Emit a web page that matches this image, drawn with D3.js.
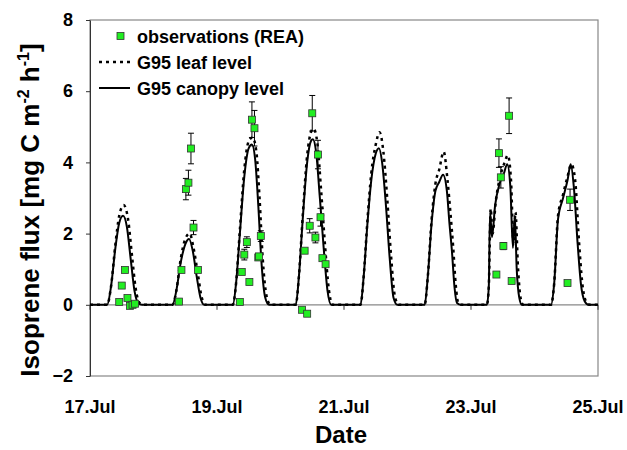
<!DOCTYPE html>
<html><head><meta charset="utf-8">
<script src="https://cdn.jsdelivr.net/npm/d3@7"></script>
<style>body{margin:0;background:#fff}text{font-family:"Liberation Sans",Arial,sans-serif;font-weight:bold}</style>
</head><body><svg width="627" height="450"></svg>
<script>
// Days of July (fractional), values in mg C m-2 h-1
const canopyT = [17.0,17.27,17.33,17.40,17.46,17.52,17.58,17.64,17.70,17.76,17.82,
  18.30,18.36,18.43,18.50,18.56,18.62,18.68,18.74,18.80,
  19.25,19.30,19.36,19.43,19.50,19.55,19.60,19.65,19.70,19.76,19.82,
  20.24,20.29,20.35,20.42,20.48,20.51,20.56,20.62,20.68,20.74,20.80,
  21.26,21.31,21.37,21.43,21.50,21.55,21.60,21.66,21.72,21.78,21.84,
  22.27,22.32,22.38,22.44,22.50,22.56,22.62,22.66,22.70,22.74,22.78,22.84,
  23.25,23.28,23.30,23.33,23.38,23.45,23.52,23.57,23.62,23.66,23.69,23.72,23.76,23.80,
  24.26,24.31,24.37,24.45,24.52,24.57,24.62,24.68,24.73,24.79,24.85,25.0];
const canopyV = [0,0,0.5,1.6,2.3,2.5,2.2,1.3,0.4,0.05,0,
  0,0.4,1.2,1.7,1.85,1.5,0.8,0.2,0,
  0,0.6,2.0,3.6,4.4,4.5,4.1,2.8,1.2,0.2,0,
  0,0.8,2.4,4.0,4.6,4.65,4.3,3.0,1.6,0.4,0,
  0,0.8,2.3,3.5,4.25,4.4,4.0,2.8,1.3,0.2,0,
  0,0.8,2.3,3.2,3.45,3.65,3.2,2.3,1.5,0.5,0.05,0,
  0,0.5,2.6,1.9,2.8,3.4,3.7,3.95,3.3,1.6,2.5,1.0,0.2,0,
  0,0.6,2.4,3.0,3.5,3.95,3.3,1.7,0.6,0.1,0,0];
const leafT = [17.0,17.27,17.33,17.40,17.46,17.53,17.60,17.66,17.72,17.78,17.84,
  18.30,18.36,18.43,18.50,18.57,18.63,18.70,18.76,18.82,
  19.25,19.30,19.36,19.43,19.50,19.56,19.62,19.67,19.72,19.78,19.84,
  20.24,20.29,20.35,20.42,20.48,20.52,20.58,20.64,20.70,20.76,20.82,
  21.26,21.31,21.37,21.43,21.50,21.56,21.62,21.68,21.74,21.80,21.86,
  22.27,22.32,22.38,22.44,22.50,22.57,22.63,22.68,22.72,22.76,22.80,22.86,
  23.25,23.28,23.31,23.34,23.39,23.46,23.53,23.58,23.63,23.67,23.70,23.74,23.78,23.82,
  24.26,24.31,24.37,24.45,24.52,24.58,24.64,24.70,24.75,24.81,24.87,25.0];
const leafV = [0,0,0.5,1.7,2.5,2.8,2.4,1.4,0.45,0.05,0,
  0,0.4,1.3,1.85,2.0,1.6,0.85,0.2,0,
  0,0.6,2.1,3.8,4.6,4.7,4.3,3.0,1.3,0.25,0,
  0,0.8,2.5,4.2,4.85,4.95,4.55,3.2,1.7,0.45,0,
  0,0.8,2.4,3.7,4.5,4.85,4.3,3.0,1.4,0.25,0,
  0,0.8,2.4,3.4,3.8,4.3,3.5,2.5,1.6,0.55,0.05,0,
  0,0.5,2.7,2.0,2.9,3.6,4.0,4.2,3.5,1.7,2.6,1.05,0.2,0,
  0,0.6,2.5,3.1,3.6,3.95,3.5,1.8,0.65,0.1,0,0];
const obsT = [17.46,17.50,17.55,17.59,17.63,17.67,17.71,
  18.40,18.44,18.51,18.55,18.59,18.63,18.70,
  19.36,19.39,19.43,19.47,19.51,19.55,19.59,19.65,19.66,19.69,
  20.34,20.38,20.42,20.46,20.50,20.55,20.59,20.63,20.66,20.71,
  23.40,23.44,23.47,23.51,23.60,23.64,
  24.52,24.56];
const obsV = [0.08,0.54,0.98,0.19,-0.03,0.0,0.03,
  0.09,0.98,3.25,3.43,4.39,2.17,0.98,
  0.08,0.92,1.41,1.76,0.64,5.2,4.96,1.33,1.36,1.93,
  -0.14,1.52,-0.25,2.22,5.38,1.89,4.22,2.46,1.31,1.14,
  0.85,4.26,3.58,1.65,5.31,0.67,
  0.61,2.95];
const obsErr = [0,0,0,0,0,0,0,
  0,0,0.3,0.35,0.43,0.2,0,
  0,0,0.15,0.15,0,0.5,0.5,0,0,0.15,
  0,0,0,0.2,0.5,0.15,0.4,0.25,0,0,
  0,0.4,0.3,0.1,0.5,0,
  0,0.3];
const xTicks = [17,19,21,23,25];
const yTicks = [-2,0,2,4,6,8];

const margin = {top: 20, right: 29, bottom: 74, left: 90};
const width = 627 - margin.left - margin.right;
const height = 450 - margin.top - margin.bottom;

const svg = d3.select('svg');
const g = svg.append('g').attr('transform', `translate(${margin.left},${margin.top})`);

const x = d3.scaleLinear().domain([17, 25]).range([0, width]);
const y = d3.scaleLinear().domain([-2, 8]).range([height, 0]);

// frame
g.append('rect').attr('width', width).attr('height', height)
  .attr('fill', 'none').attr('stroke', '#888').attr('stroke-width', 1.2);

// y axis
const yAxis = g.append('g').call(d3.axisLeft(y).tickValues(yTicks).tickSize(4).tickSizeOuter(0));
yAxis.select('.domain').attr('stroke', '#333');
yAxis.selectAll('line').attr('stroke', '#333');
yAxis.selectAll('text').attr('font-size', 18).attr('fill', '#000').attr('x', -17);

// zero line + x ticks
g.append('line').attr('x1', 0).attr('x2', width).attr('y1', y(0)).attr('y2', y(0))
  .attr('stroke', '#888').attr('stroke-width', 1.2);
g.selectAll('.xt').data(xTicks).enter().append('line')
  .attr('x1', d => x(d)).attr('x2', d => x(d)).attr('y1', y(0)).attr('y2', y(0) + 5)
  .attr('stroke', '#333');
g.selectAll('.xl').data(xTicks).enter().append('text')
  .attr('x', d => x(d)).attr('y', height + 37).attr('text-anchor', 'middle')
  .attr('font-size', 18).text(d => d + '.Jul');

const line = d3.line().x(d => x(d[0])).y(d => y(d[1])).curve(d3.curveMonotoneX);

g.append('path').datum(d3.zip(leafT, leafV)).attr('d', line)
  .attr('fill', 'none').attr('stroke', '#000').attr('stroke-width', 2.5)
  .attr('stroke-dasharray', '3,4');
g.append('path').datum(d3.zip(canopyT, canopyV)).attr('d', line)
  .attr('fill', 'none').attr('stroke', '#000').attr('stroke-width', 2);

// observations with error bars
const obs = obsT.map((t, i) => ({t, v: obsV[i], e: obsErr[i]}));
const eb = g.selectAll('.eb').data(obs.filter(d => d.e > 0)).enter().append('g')
  .attr('stroke', '#000').attr('stroke-width', 1);
eb.append('line').attr('x1', d => x(d.t)).attr('x2', d => x(d.t))
  .attr('y1', d => y(d.v - d.e)).attr('y2', d => y(d.v + d.e));
eb.append('line').attr('x1', d => x(d.t) - 3).attr('x2', d => x(d.t) + 3)
  .attr('y1', d => y(d.v + d.e)).attr('y2', d => y(d.v + d.e));
eb.append('line').attr('x1', d => x(d.t) - 3).attr('x2', d => x(d.t) + 3)
  .attr('y1', d => y(d.v - d.e)).attr('y2', d => y(d.v - d.e));
g.selectAll('.obs').data(obs).enter().append('rect')
  .attr('x', d => x(d.t) - 3.5).attr('y', d => y(d.v) - 3.5)
  .attr('width', 7).attr('height', 7)
  .attr('fill', '#22ee22').attr('stroke', '#333').attr('stroke-width', 0.8);

// legend
const lg = g.append('g').attr('transform', 'translate(9,16)');
lg.append('rect').attr('x', 18).attr('y', -3.5).attr('width', 7).attr('height', 7)
  .attr('fill', '#22ee22').attr('stroke', '#333').attr('stroke-width', 0.8);
lg.append('line').attr('x1', 0).attr('x2', 31).attr('y1', 26).attr('y2', 26)
  .attr('stroke', '#000').attr('stroke-width', 2.5).attr('stroke-dasharray', '3,4');
lg.append('line').attr('x1', 0).attr('x2', 31).attr('y1', 52).attr('y2', 52)
  .attr('stroke', '#000').attr('stroke-width', 2);
const labels = ['observations (REA)', 'G95 leaf level', 'G95 canopy level'];
lg.selectAll('.lt').data(labels).enter().append('text')
  .attr('x', 38).attr('y', (d, i) => i * 26 + 6.5).attr('font-size', 18).text(d => d);

// axis titles
svg.append('text').attr('x', margin.left + width / 2 - 3).attr('y', 443)
  .attr('text-anchor', 'middle').attr('font-size', 24).text('Date');
const yt = svg.append('text').attr('transform', `translate(39,${margin.top + height / 2 + 12}) rotate(-90)`)
  .attr('text-anchor', 'middle').attr('font-size', 26);
yt.append('tspan').text('Isoprene flux [mg C m');
yt.append('tspan').attr('dy', -10).attr('font-size', 16).text('-2');
yt.append('tspan').attr('dy', 10).text(' h');
yt.append('tspan').attr('dy', -10).attr('font-size', 16).text('-1');
yt.append('tspan').attr('dy', 10).text(']');
</script></body></html>
